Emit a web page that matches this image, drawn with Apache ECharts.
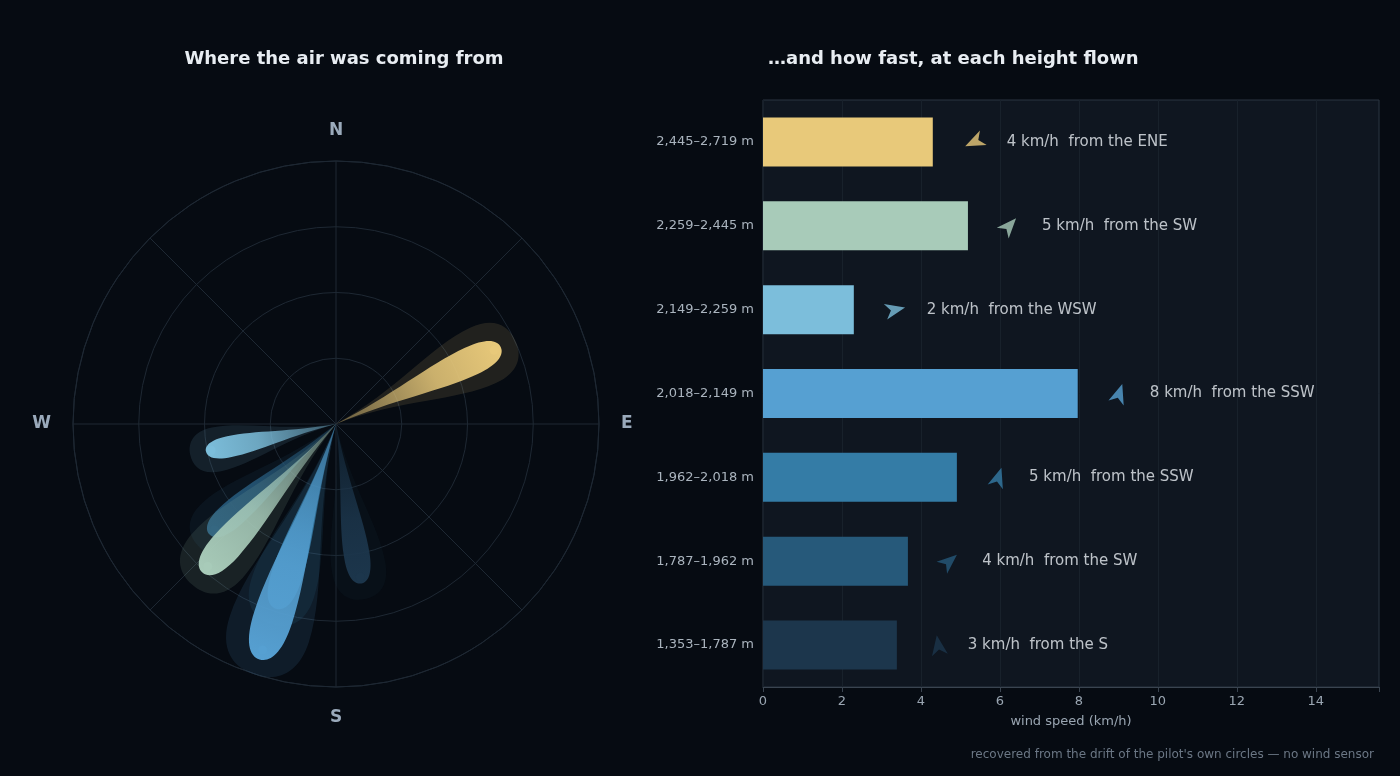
<!DOCTYPE html>
<html><head><meta charset="utf-8">
<script src="https://cdn.jsdelivr.net/npm/echarts@6/dist/echarts.min.js"></script>
<style>html,body{margin:0;background:#060b12}#c{width:1400px;height:776px}</style>
</head><body><div id="c"></div>
<script>
// layers, bottom to top
var bands = ['1,353–1,787 m', '1,787–1,962 m', '1,962–2,018 m', '2,018–2,149 m', '2,149–2,259 m', '2,259–2,445 m', '2,445–2,719 m'];
var speeds = [3.39, 3.67, 4.91, 7.97, 2.3, 5.19, 4.3];
var dirs = [171, 229, 198, 198, 258, 222, 65];      // compass degrees the air came from
var dirNames = ['S', 'SW', 'SSW', 'SSW', 'WSW', 'SW', 'ENE'];
var colors = ['#1c364c', '#26597a', '#347ca6', '#56a0d2', '#7cbedb', '#a8cbb9', '#e8c97a'];
var xTicks = [0, 2, 4, 6, 8, 10, 12, 14];

var chart = echarts.init(document.getElementById('c'));

function petal(api, v, dir, scaleW, extra) {
    var c = api.coord([0, 0]);
    var t = api.coord([Math.sqrt(v), dir]);
    var dx = t[0] - c[0], dy = t[1] - c[1];
    var L0 = Math.sqrt(dx * dx + dy * dy);
    var ux = dx / L0, uy = dy / L0, nx = -uy, ny = ux;
    var L = L0 + extra, w = L0 * 0.08 * scaleW;
    function p(a, b) { return (c[0] + ux * a + nx * b).toFixed(1) + ' ' + (c[1] + uy * a + ny * b).toFixed(1); }
    var d = 'M' + p(0, 0) +
        ' C' + p(0.35 * L, 0.15 * w) + ' ' + p(0.6 * L, w) + ' ' + p(0.82 * L, w) +
        ' C' + p(0.95 * L, w) + ' ' + p(L, 0.55 * w) + ' ' + p(L, 0) +
        ' C' + p(L, -0.55 * w) + ' ' + p(0.95 * L, -w) + ' ' + p(0.82 * L, -w) +
        ' C' + p(0.6 * L, -w) + ' ' + p(0.35 * L, -0.15 * w) + ' ' + p(0, 0) + ' Z';
    return { d: d, c: c, t: t, L0: L0, ux: ux, uy: uy };
}

var roseData = speeds.map(function (v, i) { return [v, dirs[i], i]; });
var order = [0, 1, 2, 4, 5, 3, 6];

chart.setOption({
    backgroundColor: '#060b12',
    title: [
        { text: 'Where the air was coming from', left: 339, top: 45, textAlign: 'center',
          textStyle: { color: '#e8edf2', fontSize: 18, fontWeight: 'bold', fontFamily: 'DejaVu Sans' } },
        { text: '…and how fast, at each height flown', left: 763, top: 45,
          textStyle: { color: '#e8edf2', fontSize: 18, fontWeight: 'bold', fontFamily: 'DejaVu Sans' } },
        { text: "recovered from the drift of the pilot's own circles — no wind sensor", right: 21, top: 744,
          textStyle: { color: '#6b7785', fontSize: 12, fontWeight: 'normal', fontFamily: 'DejaVu Sans' } }
    ],
    polar: { center: [336, 424], radius: 263 },
    angleAxis: {
        type: 'value', min: 0, max: 360, interval: 45, startAngle: 90, clockwise: true,
        axisLine: { show: true, lineStyle: { color: '#1e2833' } },
        axisTick: { show: false },
        axisLabel: { margin: 22, color: '#9aaabb', fontSize: 17, fontWeight: 'bold', fontFamily: 'DejaVu Sans',
            formatter: function (v) { return { 0: 'N', 90: 'E', 180: 'S', 270: 'W' }[v] || ''; } },
        splitLine: { show: true, lineStyle: { color: '#1e2833' } }
    },
    radiusAxis: {
        type: 'value', min: 0, max: 3, interval: 0.75,
        axisLine: { show: false }, axisTick: { show: false }, axisLabel: { show: false },
        splitLine: { show: true, lineStyle: { color: '#1e2833' } }
    },
    grid: { left: 763, top: 100, width: 616, height: 587, show: true, backgroundColor: '#0f1620', borderColor: '#2a3440', borderWidth: 1 },
    xAxis: {
        type: 'value', min: 0, max: 15.6, interval: 2,
        name: 'wind speed (km/h)', nameLocation: 'middle', nameGap: 28,
        nameTextStyle: { color: '#9aa6b2', fontSize: 13, fontFamily: 'DejaVu Sans' },
        axisLine: { show: true, lineStyle: { color: '#3a4450' } },
        axisTick: { show: true, lineStyle: { color: '#3a4450' } },
        axisLabel: { color: '#9aa6b2', fontSize: 13, fontFamily: 'DejaVu Sans',
            formatter: function (v) { return xTicks.indexOf(v) >= 0 ? v : ''; } },
        splitLine: { show: true, lineStyle: { color: '#18212b' } }
    },
    yAxis: {
        type: 'category', data: bands,
        axisLine: { show: false }, axisTick: { show: false },
        axisLabel: { color: '#aab4be', fontSize: 13, margin: 9, fontFamily: 'DejaVu Sans' }
    },
    series: [
        {
            type: 'custom', coordinateSystem: 'polar', data: order.map(function (i) { return roseData[i]; }),
            renderItem: function (params, api) {
                var v = api.value(0), dir = api.value(1), i = api.value(2);
                var col = colors[i];
                var halo = petal(api, v, dir, 2.1, 16);
                var pt = petal(api, v, dir, 1, 0);
                var dot = [pt.c[0] + pt.ux * pt.L0 * 0.96, pt.c[1] + pt.uy * pt.L0 * 0.96];
                return { type: 'group', children: [
                    { type: 'path', shape: { pathData: halo.d }, style: { fill: col, opacity: 0.12 } },
                    { type: 'path', shape: { pathData: pt.d }, style: {
                        fill: { type: 'linear', global: true, x: pt.c[0], y: pt.c[1], x2: pt.t[0], y2: pt.t[1],
                            colorStops: [{ offset: 0, color: echarts.color.modifyAlpha(col, 0.35) }, { offset: 0.6, color: echarts.color.modifyAlpha(col, 0.85) }, { offset: 1, color: col }] } } },
                    { type: 'circle', shape: { cx: dot[0], cy: dot[1], r: 4.5 }, style: { fill: col } }
                ] };
            }
        },
        {
            type: 'bar', barWidth: 49,
            data: speeds.map(function (v, i) { return { value: v, itemStyle: { color: colors[i] } }; })
        },
        {
            type: 'scatter', symbol: 'path://M0,-10 L6,8 L0,3 L-6,8 Z', symbolSize: [16, 20],
            data: speeds.map(function (v, i) {
                return { value: [v + 1.05, i], symbolRotate: -(dirs[i] + 180), itemStyle: { color: colors[i] },
                    label: { formatter: Math.round(v) + ' km/h  from the ' + dirNames[i] } };
            }),
            label: { show: true, position: 'right', distance: 20, color: '#e8edf2', fontSize: 15, fontFamily: 'DejaVu Sans' }
        }
    ]
});
</script></body></html>
